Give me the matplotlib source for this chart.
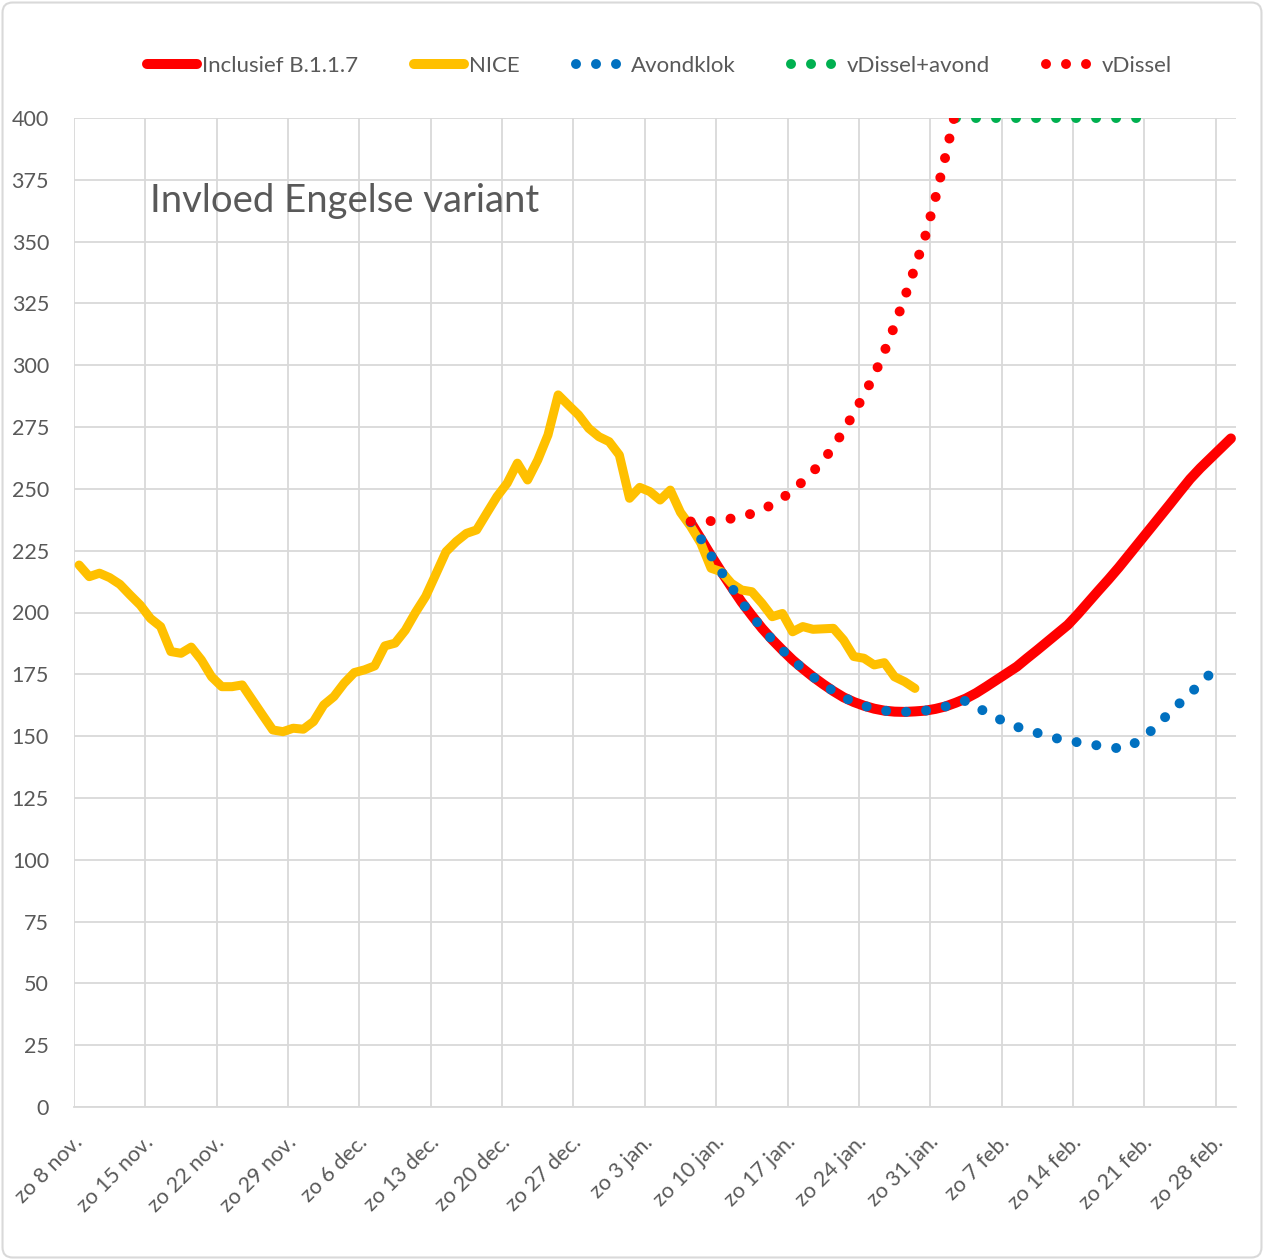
import numpy as np
import pandas as pd
import matplotlib
matplotlib.use("Agg")
import matplotlib.pyplot as plt
import matplotlib.transforms as mtransforms
from matplotlib.lines import Line2D
from matplotlib.patches import FancyBboxPatch

plt.rcParams['font.family'] = ['Lato', 'DejaVu Sans']

# ---------------------------------------------------------------------------
# data (one value per day)
# ---------------------------------------------------------------------------
nice_start = '2020-11-08'
nice = [219.2, 214.5, 215.9, 214.1, 211.4, 207.1, 203.0, 197.6, 194.3, 184.2,
        183.5, 186.0, 180.8, 174.0, 170.0, 170.0, 170.7, 164.6, 158.5, 152.5,
        151.8, 153.2, 152.8, 155.9, 162.6, 166.0, 171.4, 175.7, 176.8, 178.4,
        186.5, 187.6, 192.8, 200.0, 206.5, 215.5, 224.6, 228.7, 232.0, 233.4,
        240.2, 246.9, 252.3, 260.4, 253.6, 261.7, 271.8, 288.0, 283.9, 279.9,
        274.5, 271.1, 269.1, 263.7, 246.2, 250.6, 248.9, 245.5, 249.5, 240.5,
        234.8, 228.0, 217.9, 216.5, 211.8, 209.1, 208.4, 203.7, 198.3, 199.6,
        192.2, 194.3, 193.2, 193.4, 193.6, 188.9, 182.2, 181.5, 178.8, 179.7,
        174.0, 172.0, 169.3]

incl_start = '2021-01-07'
inclusief = [236.5, 229.8, 223.0, 216.5, 210.3, 204.2, 198.8, 193.6, 189.0, 184.8,
             180.8, 177.3, 174.0, 171.0, 168.2, 165.7, 163.8, 162.3, 161.1, 160.3,
             159.9, 159.8, 160.0, 160.3, 161.0, 162.0, 163.5, 165.2, 167.4, 170.0,
             172.7, 175.4, 178.1, 181.5, 184.8, 188.2, 191.6, 195.0, 199.4, 204.1,
             208.8, 213.4, 218.2, 223.3, 228.4, 233.5, 238.6, 243.7, 248.9, 254.0,
             258.4, 262.4, 266.4, 270.4]

avond_start = '2021-01-07'
avondklok = [236.5, 229.8, 223.0, 216.5, 210.3, 204.2, 198.8, 193.6, 189.0, 184.8,
             180.8, 177.3, 174.0, 171.0, 168.2, 165.7, 163.8, 162.3, 161.1, 160.3,
             159.9, 159.8, 160.0, 160.3, 161.0, 162.0, 163.5, 164.3, 162.0, 159.6,
             157.4, 155.5, 153.8, 152.5, 151.3, 150.1, 149.0, 148.2, 147.5, 146.8,
             146.2, 145.5, 145.1, 145.5, 148.5, 151.5, 155.5, 159.5, 163.4, 167.2,
             171.3, 175.3, 179.2]

vda_start = '2021-02-02'
vdissel_avond = [400] * 19

vd_start = '2021-01-07'
vdissel = [236.8, 236.8, 237.0, 237.5, 238.0, 238.8, 240.0, 241.5, 243.7, 246.3,
           249.3, 253.0, 257.0, 261.5, 267.0, 273.5, 280.5, 288.0, 296.0, 305.5,
           316.0, 327.5, 339.5, 352.0, 367.5, 384.6, 403.0]

tick_labels = ['zo 8 nov.', 'zo 15 nov.', 'zo 22 nov.', 'zo 29 nov.', 'zo 6 dec.',
               'zo 13 dec.', 'zo 20 dec.', 'zo 27 dec.', 'zo 3 jan.', 'zo 10 jan.',
               'zo 17 jan.', 'zo 24 jan.', 'zo 31 jan.', 'zo 7 feb.', 'zo 14 feb.',
               'zo 21 feb.', 'zo 28 feb.']


def days(start, values):
    # points sit in the middle of each day, as in a date axis "between tick marks"
    return pd.date_range(start, periods=len(values), freq='D') + pd.Timedelta(hours=12)


GREY = '#595959'
GRID = '#d9d9d9'
DOT = (0, (0.001, 2.0))

fig = plt.figure(figsize=(12.64, 12.60), dpi=100)
ax = fig.add_axes([74 / 1264, 1 - 1107 / 1260, 1162 / 1264, 989 / 1260])

ax.plot(days(incl_start, inclusief), inclusief, color='#ff0000', lw=7.2,
        solid_capstyle='round', solid_joinstyle='round', zorder=3)
ax.plot(days(nice_start, nice), nice, color='#ffc000', lw=6.5,
        solid_capstyle='round', solid_joinstyle='round', zorder=4)
ax.plot(days(avond_start, avondklok), avondklok, color='#0070c0', lw=7.2,
        linestyle=DOT, dash_capstyle='round', zorder=5)
ax.plot(days(vda_start, vdissel_avond), vdissel_avond, color='#00b050', lw=7.2,
        linestyle=DOT, dash_capstyle='round', zorder=6)
ax.plot(days(vd_start, vdissel), vdissel, color='#ff0000', lw=7.2,
        linestyle=DOT, dash_capstyle='round', zorder=7)

# axes
ax.set_ylim(0, 400)
ax.set_yticks(np.arange(0, 401, 25))
ax.set_xlim(pd.Timestamp('2020-11-08'), pd.Timestamp('2021-03-02'))
ticks = pd.date_range('2020-11-08', periods=len(tick_labels), freq='7D')
ax.set_xticks(ticks)
ax.set_xticklabels(tick_labels)

ax.grid(True, color=GRID, lw=1.3)
ax.set_axisbelow(True)
for side in ['top', 'right', 'left']:
    ax.spines[side].set_visible(False)
ax.spines['bottom'].set_color(GRID)
ax.spines['bottom'].set_linewidth(1.3)

ax.tick_params(axis='y', length=0, pad=18, labelsize=15.5, labelcolor=GREY)
ax.tick_params(axis='x', length=0, pad=23, labelsize=15.5, labelcolor=GREY)
shift = mtransforms.ScaledTranslation(5 / 100, 0, fig.dpi_scale_trans)
for lab in ax.get_xticklabels():
    lab.set_rotation(45)
    lab.set_rotation_mode('anchor')
    lab.set_ha('right')
    lab.set_va('center')
    lab.set_transform(lab.get_transform() + shift)

ax.text((150 - 74) / 1162, 0.916, 'Invloed Engelse variant',
        transform=ax.transAxes, fontsize=27.5, color=GREY, va='center', ha='left')

# legend
handles = [
    Line2D([], [], color='#ff0000', lw=7.2, solid_capstyle='round'),
    Line2D([], [], color='#ffc000', lw=7.2, solid_capstyle='round'),
    Line2D([], [], color='#0070c0', lw=7.2, linestyle=DOT, dash_capstyle='round'),
    Line2D([], [], color='#00b050', lw=7.2, linestyle=DOT, dash_capstyle='round'),
    Line2D([], [], color='#ff0000', lw=7.2, linestyle=DOT, dash_capstyle='round'),
]
labels = ['Inclusief B.1.1.7', 'NICE', 'Avondklok', 'vDissel+avond', 'vDissel']
fig.legend(handles, labels, loc='center', bbox_to_anchor=(659 / 1264, 1 - 66 / 1260),
           ncol=5, frameon=False, fontsize=16, handlelength=2.25, handletextpad=0.25,
           columnspacing=2.5, labelcolor=GREY)

# chart border
fig.patches.append(FancyBboxPatch((0.002, 0.002), 0.996, 0.996,
                                  boxstyle='round,pad=0,rounding_size=0.008',
                                  transform=fig.transFigure, fill=False,
                                  ec=GRID, lw=1.5))

fig.savefig('out.png', dpi=100)
